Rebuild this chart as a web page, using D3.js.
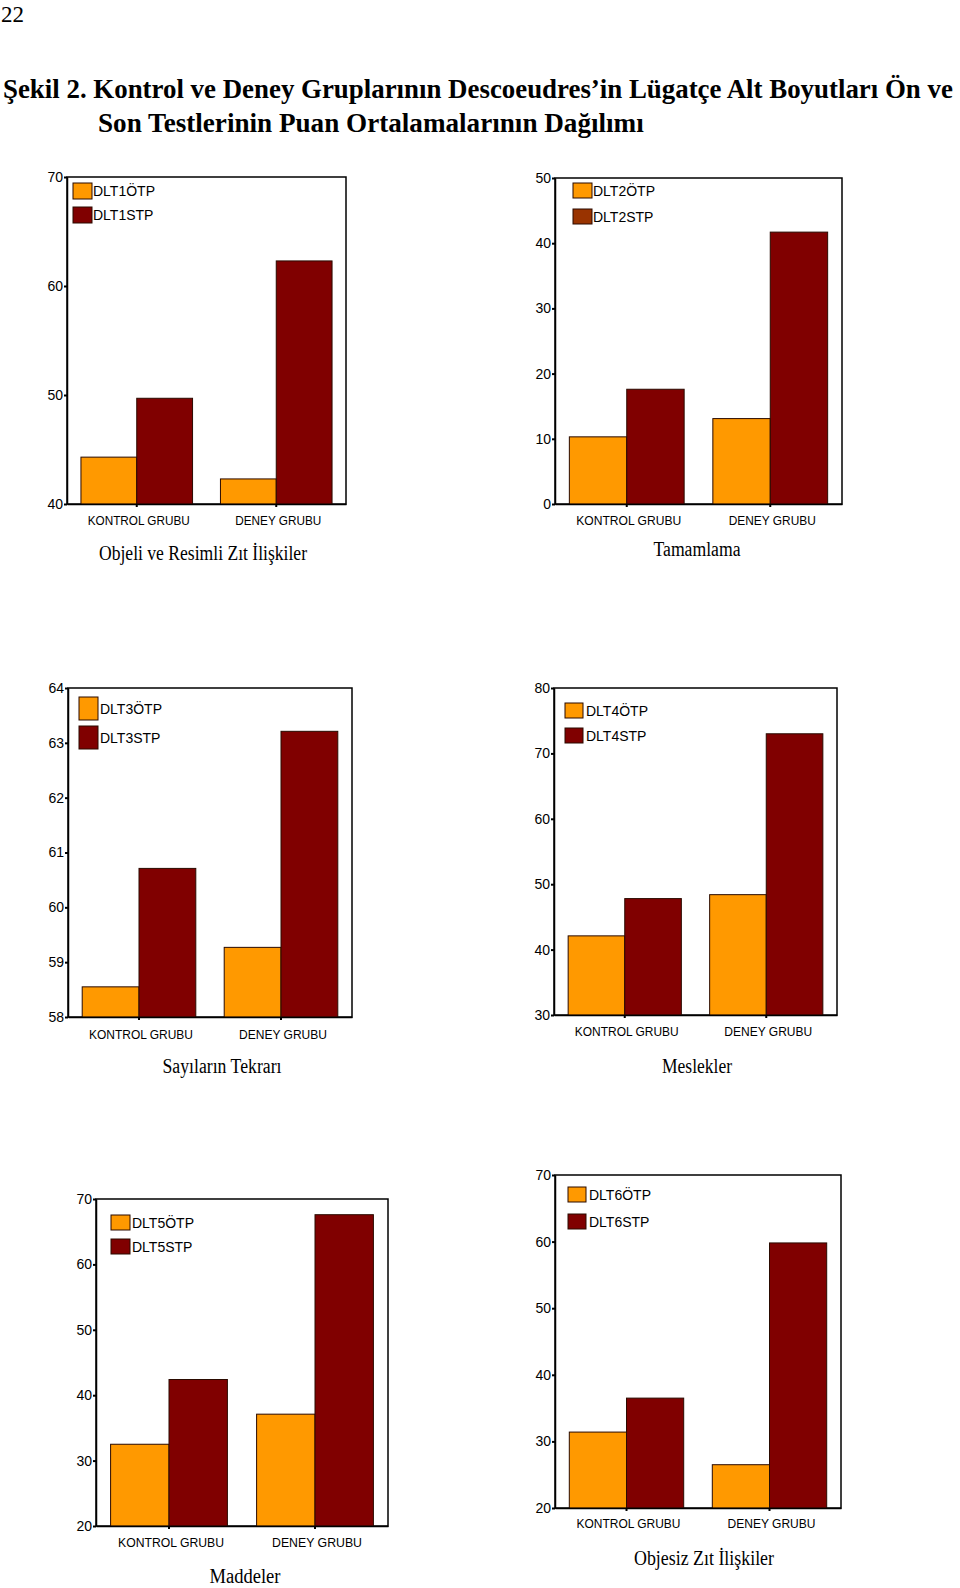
<!DOCTYPE html>
<html>
<head>
<meta charset="utf-8">
<script src="https://cdn.jsdelivr.net/npm/d3@7"></script>
<style>
  html, body { margin: 0; padding: 0; background: #fff; }
  svg { display: block; }
</style>
</head>
<body>
<svg id="chart" width="960" height="1588"></svg>
<script>
// ---- DATA ----
const categories = ["KONTROL GRUBU", "DENEY GRUBU"];
const seriesKeys = ["ÖTP", "STP"];
const panelTitles = ["Objeli ve Resimli Zıt İlişkiler", "Tamamlama", "Sayıların Tekrarı", "Meslekler", "Maddeler", "Objesiz Zıt İlişkiler"];
const legendOTP = ["DLT1ÖTP", "DLT2ÖTP", "DLT3ÖTP", "DLT4ÖTP", "DLT5ÖTP", "DLT6ÖTP"];
const legendSTP = ["DLT1STP", "DLT2STP", "DLT3STP", "DLT4STP", "DLT5STP", "DLT6STP"];
const valuesOTP = [[44.3, 42.3], [10.3, 13.1], [58.55, 59.27], [42.1, 48.4], [32.5, 37.1], [31.4, 26.5]];
const valuesSTP = [[49.7, 62.3], [17.6, 41.7], [60.71, 63.21], [47.8, 73.0], [42.4, 67.6], [36.5, 59.8]];
const yDomains = [[40, 70], [0, 50], [58, 64], [30, 80], [20, 70], [20, 70]];
const yTicks = [[40, 50, 60, 70], [0, 10, 20, 30, 40, 50], [58, 59, 60, 61, 62, 63, 64], [30, 40, 50, 60, 70, 80], [20, 30, 40, 50, 60, 70], [20, 30, 40, 50, 60, 70]];
const pageNumber = "22";
const titleLines = ["Şekil 2. Kontrol ve Deney Gruplarının Descoeudres’in Lügatçe Alt Boyutları Ön ve", "Son Testlerinin Puan Ortalamalarının Dağılımı"];

// ---- LAYOUT / STYLE ----
const layout = [
  {x0: 67, x1: 346, y0: 177, y1: 504, lx: 73, ly: [183, 207], lw: 19, lh: 16, tx: 93, catY: 525, titleX: 203, titleY: 560, titleW: 208, catW: [102, 86], stpSw: "#800000"},
  {x0: 555, x1: 842, y0: 178, y1: 504, lx: 573, ly: [183, 209], lw: 19, lh: 15, tx: 593, catY: 525, titleX: 697, titleY: 556, titleW: 87, catW: [105, 87], stpSw: "#993300"},
  {x0: 68, x1: 352, y0: 688, y1: 1017, lx: 79, ly: [697, 726], lw: 19, lh: 23, tx: 100, catY: 1039, titleX: 222, titleY: 1073, titleW: 119, catW: [104, 88], stpSw: "#800000"},
  {x0: 554, x1: 837, y0: 688, y1: 1015, lx: 565, ly: [703, 728], lw: 18, lh: 15, tx: 586, catY: 1036, titleX: 697, titleY: 1073, titleW: 70, catW: [104, 88], stpSw: "#800000"},
  {x0: 96, x1: 388, y0: 1199, y1: 1526, lx: 111, ly: [1215, 1239], lw: 19, lh: 15, tx: 132, catY: 1547, titleX: 245, titleY: 1583, titleW: 71, catW: [106, 90], stpSw: "#800000"},
  {x0: 555, x1: 841, y0: 1175, y1: 1508, lx: 568, ly: [1187, 1214], lw: 18, lh: 15, tx: 589, catY: 1528, titleX: 704, titleY: 1565, titleW: 140, catW: [104, 88], stpSw: "#800000"}
];
const colOTP = "#FF9900";
const colSTP = "#800000";
const sans = "Arial, 'Liberation Sans', sans-serif";
const serif = "'Times New Roman', 'Liberation Serif', serif";

const svg = d3.select("#chart");

// horizontally fitted text (scaled so that its drawn box is exactly the target width)
function fitText(parent, str, x, y, w, size, weight, family, anchor) {
  const t = parent.append("text").attr("x", 0).attr("y", 0)
    .attr("font-family", family).attr("font-size", size).attr("font-weight", weight || "normal")
    .attr("fill", "#000").text(str);
  const nat = t.node().getComputedTextLength();
  const s = nat > 0 ? w / nat : 1;
  const left = anchor === "middle" ? x - w / 2 : x;
  t.attr("transform", `translate(${left},${y}) scale(${s},1)`);
  return t;
}

// page number and title
fitText(svg, pageNumber, 1, 22, 23, 24, "normal", serif);
fitText(svg, titleLines[0], 3, 98, 950, 28, "bold", serif);
fitText(svg, titleLines[1], 98, 132, 546, 28, "bold", serif);

layout.forEach((L, i) => {
  const g = svg.append("g");
  const y = d3.scaleLinear().domain(yDomains[i]).range([L.y1, L.y0]);
  const x = d3.scaleBand().domain(categories).range([L.x0, L.x1]).paddingInner(0.2).paddingOuter(0.1);
  const xs = d3.scaleBand().domain(seriesKeys).range([0, x.bandwidth()]);

  // frame
  g.append("rect").attr("x", L.x0).attr("y", L.y0).attr("width", L.x1 - L.x0).attr("height", L.y1 - L.y0)
    .attr("fill", "none").attr("stroke", "#000").attr("stroke-width", 1.5);

  // bars
  const rows = categories.map((c, j) => ({cat: c, vals: [valuesOTP[i][j], valuesSTP[i][j]]}));
  rows.forEach(r => {
    r.vals.forEach((v, k) => {
      g.append("rect")
        .attr("x", x(r.cat) + xs(seriesKeys[k]))
        .attr("y", y(v))
        .attr("width", xs.bandwidth())
        .attr("height", y(yDomains[i][0]) - y(v))
        .attr("fill", k === 0 ? colOTP : colSTP)
        .attr("stroke", "#2a0a00").attr("stroke-width", 1);
    });
  });

  // left axis
  const ya = g.append("g").attr("transform", `translate(${L.x0},0)`)
    .call(d3.axisLeft(y).tickValues(yTicks[i]).tickFormat(d3.format("d")).tickSize(3).tickSizeOuter(0).tickPadding(1));
  ya.attr("font-size", 14).attr("font-family", sans);
  ya.select(".domain").attr("stroke-width", 1.5);
  ya.selectAll(".tick line").attr("stroke-width", 2);
  ya.selectAll(".tick text").style("font-size", "14px").style("font-family", sans).attr("fill", "#000");

  // bottom axis
  const xa = g.append("g").attr("transform", `translate(0,${L.y1})`)
    .call(d3.axisBottom(x).tickSize(3).tickSizeOuter(0));
  xa.attr("font-size", 13.5).attr("font-family", sans);
  xa.select(".domain").attr("stroke-width", 1.5);
  xa.selectAll(".tick line").attr("stroke-width", 2);
  xa.selectAll(".tick text")
    .attr("y", L.catY - L.y1).attr("dy", 0).attr("dx", 2)
    .style("font-size", "13.5px").style("font-family", sans).attr("fill", "#000")
    .attr("textLength", (d, j) => L.catW[j]).attr("lengthAdjust", "spacingAndGlyphs");

  // legend
  [legendOTP[i], legendSTP[i]].forEach((lab, k) => {
    g.append("rect").attr("x", L.lx).attr("y", L.ly[k]).attr("width", L.lw).attr("height", L.lh)
      .attr("fill", k === 0 ? colOTP : L.stpSw).attr("stroke", "#2a0a00").attr("stroke-width", 1);
    g.append("text").attr("x", L.tx).attr("y", L.ly[k] + L.lh / 2 + 5)
      .attr("font-family", sans).attr("font-size", 14).attr("fill", "#000").text(lab);
  });

  // panel title
  g.append("text").attr("x", L.titleX).attr("y", L.titleY).attr("text-anchor", "middle")
    .attr("font-family", serif).attr("font-size", 20)
    .attr("textLength", L.titleW).attr("lengthAdjust", "spacingAndGlyphs").text(panelTitles[i]);
});
</script>
</body>
</html>
